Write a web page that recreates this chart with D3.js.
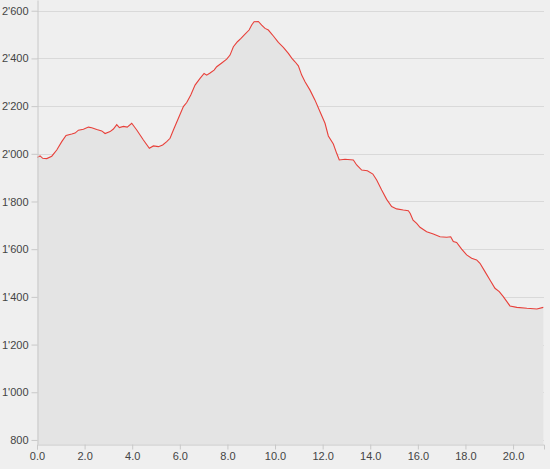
<!DOCTYPE html>
<html>
<head>
<meta charset="utf-8">
<script src="https://cdn.jsdelivr.net/npm/d3@7"></script>
<style>
  html, body { margin: 0; padding: 0; background: #efefef; }
  svg { display: block; }
  .axis text { font-family: "Liberation Sans", Arial, sans-serif; font-size: 11px; fill: #444; }
  .axis path, .axis line { stroke: #c8c8c8; }
</style>
</head>
<body>
<svg id="chart" width="550" height="469"></svg>
<script>
// Distance (km)
const distances = [0.01,0.13,0.24,0.41,0.62,0.83,1.04,1.22,1.46,1.60,1.74,1.95,2.16,2.30,2.51,2.72,2.86,3.07,3.21,3.35,3.46,3.63,3.79,3.98,4.19,4.47,4.72,4.89,5.10,5.28,5.45,5.59,5.73,5.94,6.15,6.29,6.46,6.64,6.85,7.02,7.13,7.27,7.44,7.55,7.76,7.97,8.11,8.25,8.42,8.57,8.74,8.91,9.02,9.12,9.30,9.44,9.58,9.72,9.93,10.14,10.35,10.56,10.71,10.84,10.98,11.12,11.26,11.47,11.68,11.89,12.10,12.24,12.45,12.59,12.70,12.94,13.29,13.43,13.64,13.88,14.11,14.27,14.48,14.69,14.90,15.11,15.39,15.60,15.68,15.80,15.95,16.09,16.37,16.65,16.93,17.21,17.38,17.49,17.63,17.84,18.05,18.26,18.47,18.61,18.82,19.03,19.24,19.42,19.59,19.87,20.16,20.58,21.00,21.27];
// Elevation (m)
const elevations = [1985,1991,1981,1980,1990,2016,2051,2077,2083,2087,2099,2103,2112,2109,2102,2096,2085,2093,2104,2122,2110,2115,2112,2128,2100,2058,2023,2033,2030,2037,2051,2065,2100,2149,2198,2215,2247,2288,2316,2337,2330,2339,2351,2365,2381,2397,2414,2449,2470,2484,2502,2519,2540,2554,2555,2540,2526,2519,2494,2467,2446,2421,2400,2386,2369,2330,2302,2267,2225,2176,2128,2075,2041,2002,1974,1977,1974,1953,1932,1929,1915,1890,1848,1809,1779,1769,1764,1761,1750,1722,1708,1692,1673,1664,1652,1650,1652,1632,1628,1600,1576,1562,1555,1541,1506,1471,1436,1422,1401,1362,1356,1352,1349,1356];
const yTicks = [800,1000,1200,1400,1600,1800,2000,2200,2400,2600];
const xTicks = [0,2,4,6,8,10,12,14,16,18,20];

const data = distances.map((d, i) => ({ x: d, y: elevations[i] }));

const svg = d3.select("#chart");
const mLeft = 37, mRight = 544, mTop = 0, mBottom = 444;

const x = d3.scaleLinear().domain([0, 21.3]).range([mLeft, mRight]);
const y = d3.scaleLinear().domain([783, 2645]).range([mBottom, mTop]);

const loc = d3.formatLocale({ decimal: ".", thousands: "'", grouping: [3], currency: ["", ""] });
const fy = loc.format(",");
const fx = d3.format(".1f");

// gridlines
svg.append("g")
  .selectAll("line")
  .data(yTicks)
  .join("line")
  .attr("x1", mLeft).attr("x2", mRight)
  .attr("y1", d => Math.round(y(d)) + 0.5).attr("y2", d => Math.round(y(d)) + 0.5)
  .attr("stroke", "#d9d9d9").attr("stroke-width", 1);

// area
const area = d3.area().x(d => x(d.x)).y0(mBottom).y1(d => y(d.y));
svg.append("path").datum(data).attr("d", area).attr("fill", "#e4e4e4");

// line
const line = d3.line().x(d => x(d.x)).y(d => y(d.y));
svg.append("path").datum(data).attr("d", line)
  .attr("fill", "none").attr("stroke", "#e8403a").attr("stroke-width", 1.1);

// axes
svg.append("g").attr("class", "axis")
  .attr("transform", `translate(${mLeft + 0.5},0)`)
  .call(d3.axisLeft(y).tickValues(yTicks).tickFormat(fy).tickSize(6).tickPadding(3).tickSizeOuter(0));

svg.append("g").attr("class", "axis")
  .attr("transform", `translate(0,${mBottom + 0.5})`)
  .call(d3.axisBottom(x).tickValues(xTicks).tickFormat(fx).tickSize(5).tickPadding(3).tickSizeOuter(5));
</script>
</body>
</html>
